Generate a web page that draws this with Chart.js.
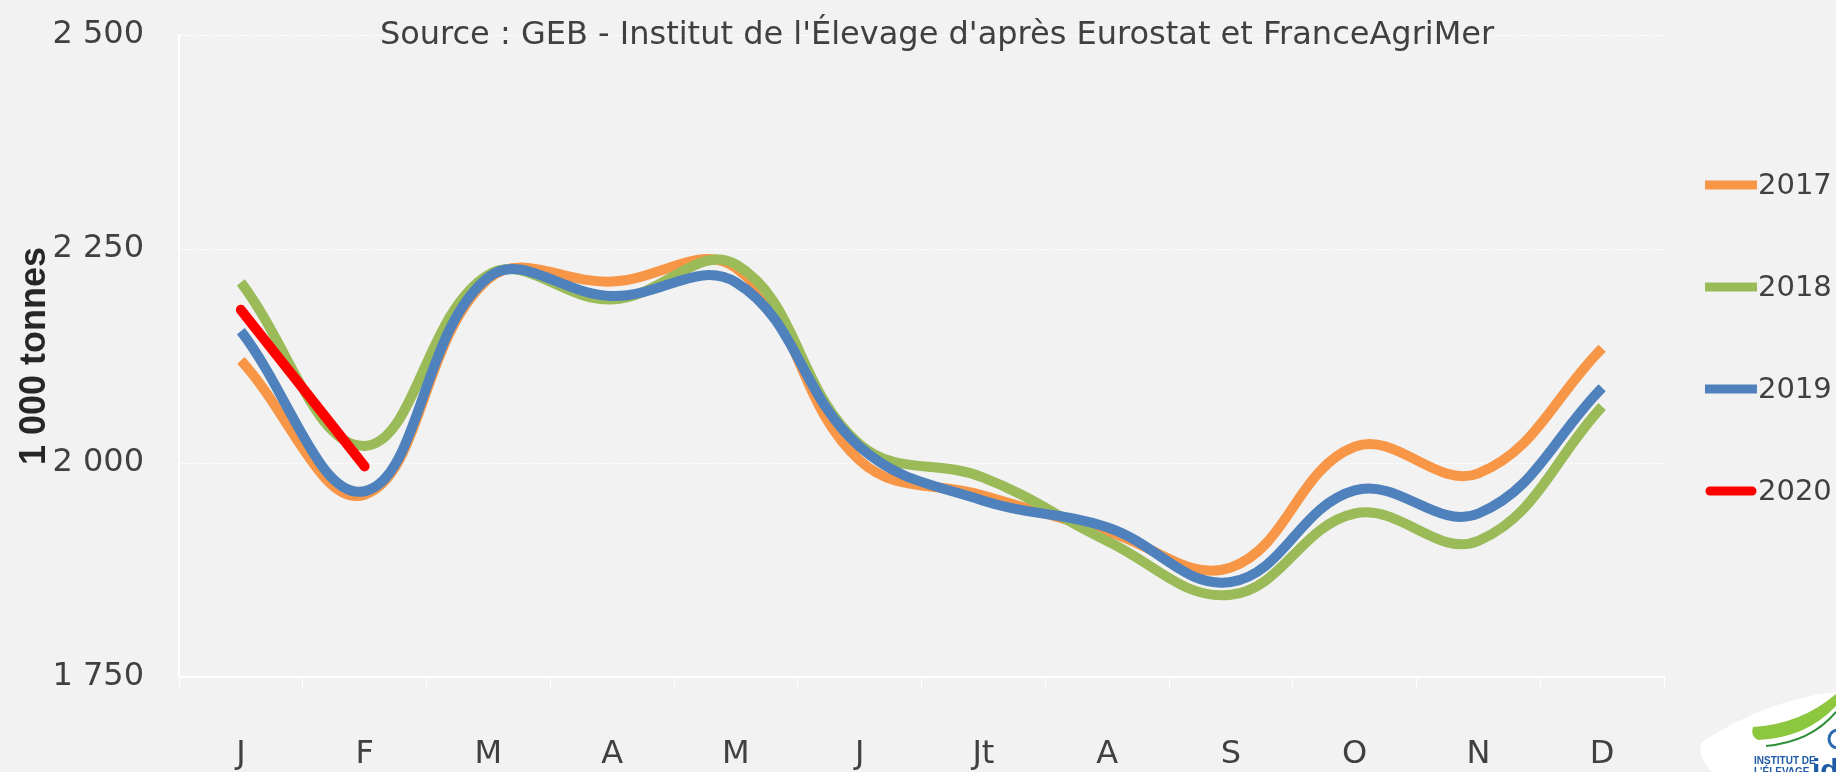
<!DOCTYPE html>
<html>
<head>
<meta charset="utf-8">
<script src="https://cdn.jsdelivr.net/npm/chart.js@4.4.1/dist/chart.umd.min.js"></script>
<style>
  html, body { margin: 0; padding: 0; background: #f2f2f2; }
  #wrap { width: 1836px; height: 772px; position: relative; }
</style>
</head>
<body>
<div id="wrap"><canvas id="collecte"></canvas></div>
<script>
// monthly volumes, 1 000 tonnes
const months = ["J", "F", "M", "A", "M", "J", "Jt", "A", "S", "O", "N", "D"];
const years = ["2017", "2018", "2019", "2020"];
const vol2017 = [2120, 1963, 2215, 2212, 2228, 2003, 1962, 1920, 1878, 2019, 1988, 2134];
const vol2018 = [2211, 2020, 2220, 2191, 2232, 2022, 1983, 1909, 1846, 1941, 1909, 2066];
const vol2019 = [2154, 1967, 2217, 2195, 2211, 2019, 1956, 1925, 1861, 1968, 1941, 2088];
const vol2020 = [2179, 1996];
const yTicks = [1750, 2000, 2250, 2500];
const sourceText = "Source : GEB - Institut de l'Élevage d'après Eurostat et FranceAgriMer";
const yTitle = "1 000 tonnes";

const colors = ["#f79646", "#9bbb59", "#4f81bd", "#ff0000"];
const textColor = "#404040";
const labelFont = "DejaVu Sans";

function spaced(v) {
  return String(v).replace(/\B(?=(\d{3})+(?!\d))/g, " ");
}

function lineSet(i, values) {
  return {
    label: years[i],
    data: values,
    borderColor: colors[i],
    backgroundColor: colors[i],
    borderWidth: 10,
    borderCapStyle: i == 3 ? "round" : "butt",
    pointRadius: 0,
    pointHoverRadius: 0,
    tension: i == 3 ? 0 : 0.4,
    order: 4 - i, // 2020 on top, 2017 underneath
  };
}

// source line at the top, drawn over the plot
const sourcePlugin = {
  id: "source",
  afterDraw(chart) {
    const ctx = chart.ctx;
    ctx.save();
    ctx.font = "32px '" + labelFont + "'";
    ctx.fillStyle = textColor;
    ctx.textAlign = "center";
    ctx.textBaseline = "middle";
    ctx.fillText(sourceText, 937, 36);
    ctx.restore();
  },
};

// legend on the right: short thick line then the year
const sideLegend = {
  id: "sideLegend",
  afterDraw(chart) {
    const ctx = chart.ctx;
    const area = chart.chartArea;
    ctx.save();
    chart.data.datasets.forEach((ds, i) => {
      const y = area.top + 150 + i * 102;
      ctx.strokeStyle = ds.borderColor;
      ctx.lineWidth = 9;
      ctx.lineCap = ds.borderCapStyle;
      ctx.beginPath();
      ctx.moveTo(area.right + (i == 3 ? 46 : 41), y);
      ctx.lineTo(area.right + (i == 3 ? 88 : 93), y);
      ctx.stroke();
      ctx.fillStyle = textColor;
      ctx.font = "29px '" + labelFont + "'";
      ctx.textBaseline = "middle";
      ctx.fillText(ds.label, area.right + 94, y + 1);
    });
    ctx.restore();
  },
};

// bit of the institute logo cut off in the corner
const logoPlugin = {
  id: "logo",
  afterDraw(chart) {
    const ctx = chart.ctx;
    const w = chart.width, h = chart.height;
    ctx.save();
    ctx.fillStyle = "#ffffff";
    ctx.beginPath();
    ctx.moveTo(w - 134, h - 30);
    ctx.quadraticCurveTo(w - 70, h - 72, w, h - 80);
    ctx.lineTo(w, h);
    ctx.lineTo(w - 124, h);
    ctx.quadraticCurveTo(w - 140, h - 18, w - 134, h - 30);
    ctx.fill();
    ctx.fillStyle = "#8dc63f";
    ctx.beginPath();
    ctx.moveTo(w - 83, h - 45);
    ctx.quadraticCurveTo(w - 35, h - 48, w, h - 78);
    ctx.lineTo(w, h - 66);
    ctx.quadraticCurveTo(w - 30, h - 34, w - 78, h - 32);
    ctx.quadraticCurveTo(w - 86, h - 36, w - 83, h - 45);
    ctx.fill();
    ctx.strokeStyle = "#2f8f3a";
    ctx.lineWidth = 2;
    ctx.beginPath();
    ctx.moveTo(w - 70, h - 26);
    ctx.quadraticCurveTo(w - 25, h - 30, w, h - 60);
    ctx.stroke();
    ctx.strokeStyle = "#2b6cb0";
    ctx.lineWidth = 3;
    ctx.beginPath();
    ctx.arc(w + 2, h - 33, 9, 0.5 * Math.PI, 1.6 * Math.PI);
    ctx.stroke();
    ctx.fillStyle = "#1f5aa6";
    ctx.font = "bold 10px 'Liberation Sans'";
    ctx.fillText("INSTITUT DE", w - 82, h - 8);
    ctx.fillText("L'ÉLEVAGE", w - 82, h + 3);
    ctx.font = "bold 30px 'Liberation Sans'";
    ctx.fillText("idele", w - 24, h + 8);
    ctx.restore();
  },
};

new Chart(document.getElementById("collecte"), {
  type: "line",
  data: {
    labels: months,
    datasets: [
      lineSet(0, vol2017),
      lineSet(1, vol2018),
      lineSet(2, vol2019),
      lineSet(3, vol2020),
    ],
  },
  options: {
    responsive: true,
    maintainAspectRatio: false,
    animation: false,
    layout: { padding: { top: 35, right: 172, left: 0, bottom: 0 } },
    plugins: {
      legend: { display: false },
      tooltip: { enabled: false },
    },
    scales: {
      x: {
        type: "category",
        offset: true,
        grid: {
          offset: true,
          drawOnChartArea: false,
          drawTicks: true,
          tickLength: 12,
          color: "#ffffff",
          lineWidth: 1,
        },
        border: { color: "#ffffff", width: 2 },
        ticks: {
          color: textColor,
          padding: 46,
          font: { family: labelFont, size: 32 },
          maxRotation: 0,
          autoSkip: false,
        },
        afterFit: (scale) => {
          scale.height = 95;
        },
      },
      y: {
        min: 1750,
        max: 2500,
        afterBuildTicks: (scale) => {
          scale.ticks = yTicks.map((v) => ({ value: v }));
        },
        grid: {
          drawTicks: false,
          color: "#ffffff",
          lineWidth: 1,
        },
        border: { color: "#ffffff", width: 2, dash: [3, 2] },
        ticks: {
          color: textColor,
          padding: 35,
          font: { family: labelFont, size: 32 },
          callback: (v) => spaced(v),
        },
        title: {
          display: true,
          text: yTitle,
          color: "#262626",
          font: { family: "Liberation Sans", size: 36, weight: "bold" },
          padding: { top: 13, bottom: 0 },
        },
        afterFit: (scale) => {
          scale.width = 179;
          // tick padding is horizontal here, don't let it push the plot down
          scale.paddingTop = 18;
          scale.paddingBottom = 18;
        },
      },
    },
  },
  plugins: [sourcePlugin, sideLegend, logoPlugin],
});
</script>
</body>
</html>
